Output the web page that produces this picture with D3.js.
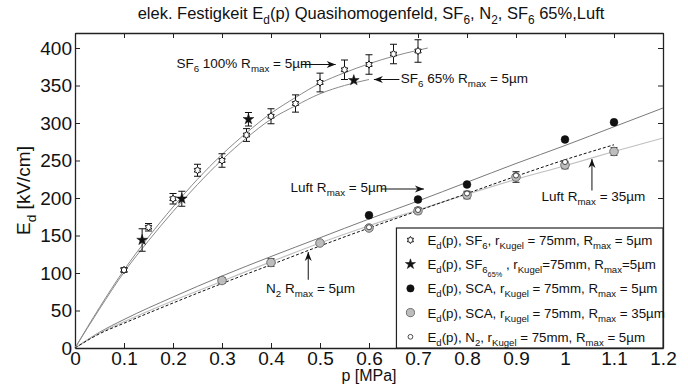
<!DOCTYPE html>
<html>
<head>
<meta charset="utf-8">
<script src="https://cdn.jsdelivr.net/npm/d3@7"></script>
<style>
  body { margin: 0; background: #fff; }
  text { font-family: "Liberation Sans", Arial, sans-serif; }
</style>
</head>
<body>
<svg id="chart" width="688" height="385"></svg>
<script>
// tick labels
var xTicks = [0, 0.1, 0.2, 0.3, 0.4, 0.5, 0.6, 0.7, 0.8, 0.9, 1, 1.1, 1.2];
var yTicks = [0, 50, 100, 150, 200, 250, 300, 350, 400];

// SF6 100% measurements (hexagram markers)
var pSF6   = [0.1, 0.15, 0.2, 0.25, 0.3, 0.35, 0.4, 0.45, 0.5, 0.55, 0.6, 0.65, 0.7];
var eSF6   = [104, 161, 199, 237, 250, 284, 309, 326, 354, 371, 378, 392, 396];
var errSF6 = [3, 5, 7, 8, 9, 8.5, 10, 11.5, 12.5, 13, 13, 13, 15];

// SF6 65% measurements (stars)
var pSF65   = [0.137, 0.218, 0.354, 0.569];
var eSF65   = [144, 199, 305, 357];
var errSF65 = [15, 10, 9, 0];

// SCA (Luft), Rmax = 5um
var pSCA5 = [0.6, 0.7, 0.8, 1.0, 1.1];
var eSCA5 = [177, 198, 218, 278, 301];

// SCA (Luft), Rmax = 35um
var pSCA35   = [0.3, 0.4, 0.5, 0.6, 0.7, 0.8, 0.9, 1.0, 1.1];
var eSCA35   = [90, 114, 140, 160, 183, 204, 228, 244, 262];
var errSCA35 = [4, 5, 0, 3, 4, 5, 7, 5, 5];

// N2
var pN2 = [0.6, 0.7, 0.8, 0.9, 1.0];
var eN2 = [161, 184, 206, 230, 248];

// fitted curves
var fitP_SF6  = [0, 0.05, 0.1, 0.15, 0.2, 0.25, 0.3, 0.35, 0.4, 0.45, 0.5, 0.55, 0.6, 0.65, 0.7, 0.72];
var fitE_SF6  = [0, 54, 104, 148, 188, 225, 258, 287, 313, 334, 353, 367, 379, 389, 397, 400];
var fitP_SF65 = [0, 0.05, 0.1, 0.15, 0.2, 0.25, 0.3, 0.35, 0.4, 0.45, 0.5, 0.55, 0.6];
var fitE_SF65 = [0, 52, 101, 143, 182, 218, 251, 280, 305, 323, 339, 350, 358];
var fitP_low  = [0, 0.05, 0.1, 0.2, 0.3, 0.4, 0.5, 0.6, 0.7, 0.8, 0.9, 1.0, 1.1, 1.2];
var fitE_SCA5  = [0, 21, 38, 68, 96, 122, 147, 172, 196, 221, 246, 270, 295, 320];
var fitE_SCA35 = [0, 20, 35, 63, 89, 115, 140, 163, 184, 205, 225, 243, 262, 280];
var fitE_N2    = [0, 19, 33, 60, 86, 111, 136, 160, 183, 206, 229, 251, 271];

var svg = d3.select("#chart"),
    margin = {top: 33, right: 25, bottom: 37, left: 75},
    width = +svg.attr("width") - margin.left - margin.right,
    height = +svg.attr("height") - margin.top - margin.bottom,
    g = svg.append("g").attr("transform", "translate(" + margin.left + "," + margin.top + ")");

var x = d3.scaleLinear().domain([0, 1.2]).range([0, width]);
var y = d3.scaleLinear().domain([0, 420]).range([height, 0]);

// helper: text with subscripts. parts = [[text, level], ...]
function richText(sel, parts, size) {
  var cur = 0;
  parts.forEach(function(p) {
    var lvl = p[1] || 0;
    var fs = lvl === 0 ? size : (lvl === 1 ? size * 0.72 : size * 0.55);
    var off = lvl === 0 ? 0 : (lvl === 1 ? size * 0.3 : size * 0.62);
    sel.append("tspan")
      .attr("dy", off - cur)
      .attr("font-size", fs)
      .text(p[0]);
    cur = off;
  });
  if (cur !== 0) sel.append("tspan").attr("dy", -cur).text("\u200b");
  return sel;
}

// axes
g.append("g")
    .attr("transform", "translate(0," + height + ")")
    .call(d3.axisBottom(x).tickValues(xTicks).tickSizeInner(-5).tickSizeOuter(0).tickPadding(3)
      .tickFormat(function(d) { return String(d); }))
    .call(function(a) { a.selectAll("text").attr("font-size", 19).attr("fill", "#111"); });

g.append("g")
    .call(d3.axisLeft(y).tickValues(yTicks).tickSizeInner(-5).tickSizeOuter(0).tickPadding(3))
    .call(function(a) { a.selectAll("text").attr("font-size", 19).attr("fill", "#111"); });

g.append("g")
    .call(d3.axisTop(x).tickValues(xTicks).tickSizeInner(-5).tickSizeOuter(0).tickFormat(""));

g.append("g")
    .attr("transform", "translate(" + width + ",0)")
    .call(d3.axisRight(y).tickValues(yTicks).tickSizeInner(-5).tickSizeOuter(0).tickFormat(""));

g.selectAll(".domain").attr("stroke", "#222").attr("stroke-width", 1.3);
g.selectAll(".tick line").attr("stroke", "#222");

// fitted curves
var line = d3.line().curve(d3.curveMonotoneX)
    .x(function(d) { return x(d[0]); })
    .y(function(d) { return y(d[1]); });

function pairs(px, py) { return py.map(function(v, i) { return [px[i], v]; }); }

g.append("path").datum(pairs(fitP_SF6, fitE_SF6))
    .attr("d", line).attr("fill", "none").attr("stroke", "#8a8a8a").attr("stroke-width", 1);
g.append("path").datum(pairs(fitP_SF65, fitE_SF65))
    .attr("d", line).attr("fill", "none").attr("stroke", "#8a8a8a").attr("stroke-width", 1);
g.append("path").datum(pairs(fitP_low, fitE_SCA5))
    .attr("d", line).attr("fill", "none").attr("stroke", "#7a7a7a").attr("stroke-width", 1);
g.append("path").datum(pairs(fitP_low, fitE_SCA35))
    .attr("d", line).attr("fill", "none").attr("stroke", "#c0c0c0").attr("stroke-width", 1.2);
g.append("path").datum(pairs(fitP_low, fitE_N2))
    .attr("d", line).attr("fill", "none").attr("stroke", "#111").attr("stroke-width", 1)
    .attr("stroke-dasharray", "3,2");

// error bars
function errorBars(px, py, pe) {
  var d = py.map(function(v, i) { return {p: px[i], e: v, err: pe[i]}; })
            .filter(function(d) { return d.err > 0; });
  g.append("g").attr("stroke", "#111").attr("stroke-width", 1).attr("fill", "none")
    .selectAll("path").data(d).enter().append("path")
    .attr("d", function(d) {
      var cx = x(d.p), y0 = y(d.e - d.err), y1 = y(d.e + d.err);
      return "M" + cx + "," + y0 + "V" + y1 +
             "M" + (cx - 3.5) + "," + y0 + "H" + (cx + 3.5) +
             "M" + (cx - 3.5) + "," + y1 + "H" + (cx + 3.5);
    });
}
errorBars(pSF6, eSF6, errSF6);
errorBars(pSF65, eSF65, errSF65);
errorBars(pSCA35, eSCA35, errSCA35);

// hexagram symbol
var hexagram = {
  draw: function(ctx, size) {
    var r = Math.sqrt(size / 2.2), ri = r * 0.62;
    for (var i = 0; i < 12; i++) {
      var a = Math.PI / 6 * i - Math.PI / 2, rr = i % 2 ? ri : r;
      if (i === 0) ctx.moveTo(rr * Math.cos(a), rr * Math.sin(a));
      else ctx.lineTo(rr * Math.cos(a), rr * Math.sin(a));
    }
    ctx.closePath();
  }
};

var markers = {
  sf6:   {type: hexagram, size: 30, fill: "#fff", stroke: "#111", sw: 1},
  sf65:  {type: d3.symbolStar, size: 36, fill: "#111", stroke: "#111", sw: 0.5},
  sca5:  {type: d3.symbolCircle, size: 48, fill: "#111", stroke: "#111", sw: 0.5},
  sca35: {type: d3.symbolCircle, size: 58, fill: "#bdbdbd", stroke: "#555", sw: 0.8},
  n2:    {type: d3.symbolCircle, size: 20, fill: "#fff", stroke: "#222", sw: 0.8}
};

function drawPoints(px, py, m) {
  g.append("g").selectAll("path")
    .data(py.map(function(v, i) { return [px[i], v]; }))
    .enter().append("path")
      .attr("transform", function(d) { return "translate(" + x(d[0]) + "," + y(d[1]) + ")"; })
      .attr("d", d3.symbol().type(m.type).size(m.size))
      .attr("fill", m.fill).attr("stroke", m.stroke).attr("stroke-width", m.sw);
}
drawPoints(pSCA35, eSCA35, markers.sca35);
drawPoints(pN2, eN2, markers.n2);
drawPoints(pSCA5, eSCA5, markers.sca5);
drawPoints(pSF6, eSF6, markers.sf6);
drawPoints(pSF65, eSF65, markers.sf65);

// annotations
var ann = g.append("g").attr("fill", "#111");
function arrow(x1, y1, x2, y2) {
  var a = Math.atan2(y2 - y1, x2 - x1), L = 9, W = 3.5;
  ann.append("line").attr("x1", x1).attr("y1", y1).attr("x2", x2).attr("y2", y2)
    .attr("stroke", "#111").attr("stroke-width", 1);
  ann.append("path").attr("d",
    "M" + x2 + "," + y2 +
    "L" + (x2 - L * Math.cos(a) + W * Math.sin(a)) + "," + (y2 - L * Math.sin(a) - W * Math.cos(a)) +
    "L" + (x2 - L * Math.cos(a) * 0.7) + "," + (y2 - L * Math.sin(a) * 0.7) +
    "L" + (x2 - L * Math.cos(a) - W * Math.sin(a)) + "," + (y2 - L * Math.sin(a) + W * Math.cos(a)) + "Z");
}
var fsA = 13.5;
richText(ann.append("text").attr("x", x(0.207)).attr("y", y(374)),
  [["SF"], ["6", 1], [" 100% R"], ["max", 1], [" = 5µm"]], fsA);
arrow(x(0.461), y(378), x(0.532), y(378));

arrow(x(0.662), y(358), x(0.61), y(358));
richText(ann.append("text").attr("x", x(0.665)).attr("y", y(353)),
  [["SF"], ["6", 1], [" 65% R"], ["max", 1], [" = 5µm"]], fsA);

richText(ann.append("text").attr("x", x(0.44)).attr("y", y(208)),
  [["Luft R"], ["max", 1], [" = 5µm"]], fsA);
arrow(x(0.625), y(212), x(0.712), y(212));

richText(ann.append("text").attr("x", x(0.952)).attr("y", y(196)),
  [["Luft R"], ["max", 1], [" = 35µm"]], fsA);
arrow(x(1.055), y(210), x(1.055), y(252));

richText(ann.append("text").attr("x", x(0.39)).attr("y", y(74)),
  [["N"], ["2", 1], [" R"], ["max", 1], [" = 5µm"]], fsA);
arrow(x(0.476), y(91), x(0.476), y(128));

// legend
var legend = g.append("g").attr("transform", "translate(" + x(0.656) + "," + y(160) + ")");
var legW = width - x(0.656), legH = height - y(160);
legend.append("rect").attr("width", legW).attr("height", legH)
    .attr("fill", "#fff").attr("stroke", "#222").attr("stroke-width", 1.2);

var legItems = [
  {m: markers.sf6,   parts: [["E"], ["d", 1], ["(p), SF"], ["6", 1], [", r"], ["Kugel", 1], [" = 75mm, R"], ["max", 1], [" = 5µm"]]},
  {m: markers.sf65,  parts: [["E"], ["d", 1], ["(p), SF"], ["6", 1], ["65%", 2], [" , r"], ["Kugel", 1], ["=75mm, R"], ["max", 1], ["=5µm"]]},
  {m: markers.sca5,  parts: [["E"], ["d", 1], ["(p), SCA, r"], ["Kugel", 1], [" = 75mm, R"], ["max", 1], [" = 5µm"]]},
  {m: markers.sca35, parts: [["E"], ["d", 1], ["(p), SCA, r"], ["Kugel", 1], [" = 75mm, R"], ["max", 1], [" = 35µm"]]},
  {m: markers.n2,    parts: [["E"], ["d", 1], ["(p), N"], ["2", 1], [", r"], ["Kugel", 1], [" = 75mm,  R"], ["max", 1], [" = 5µm"]]}
];

var li = legend.selectAll("g.item").data(legItems).enter().append("g")
    .attr("class", "item")
    .attr("transform", function(d, i) { return "translate(0," + (12 + i * 24.2) + ")"; });
li.append("path")
    .attr("transform", "translate(14,0)")
    .attr("d", function(d) { return d3.symbol().type(d.m.type).size(d.m.size * 0.9)(); })
    .attr("fill", function(d) { return d.m.fill; })
    .attr("stroke", function(d) { return d.m.stroke; })
    .attr("stroke-width", function(d) { return d.m.sw; });
li.each(function(d) {
  richText(d3.select(this).append("text").attr("x", 31).attr("y", 5).attr("fill", "#111"), d.parts, 13.3);
});

// title and axis labels
richText(svg.append("text").attr("x", margin.left + width / 2 + 2).attr("y", 19)
    .attr("text-anchor", "middle").attr("fill", "#111"),
  [["elek. Festigkeit E"], ["d", 1], ["(p) Quasihomogenfeld, SF"], ["6", 1], [", N"], ["2", 1], [", SF"], ["6", 1], [" 65%,Luft"]], 16.5);

svg.append("text").attr("x", margin.left + width / 2).attr("y", 381)
    .attr("text-anchor", "middle").attr("font-size", 16).attr("fill", "#111")
    .text("p [MPa]");

richText(svg.append("text")
    .attr("transform", "translate(30," + (margin.top + height / 2) + ") rotate(-90)")
    .attr("text-anchor", "middle").attr("fill", "#111"),
  [["E"], ["d", 1], [" [kV/cm]"]], 19);
</script>
</body>
</html>
